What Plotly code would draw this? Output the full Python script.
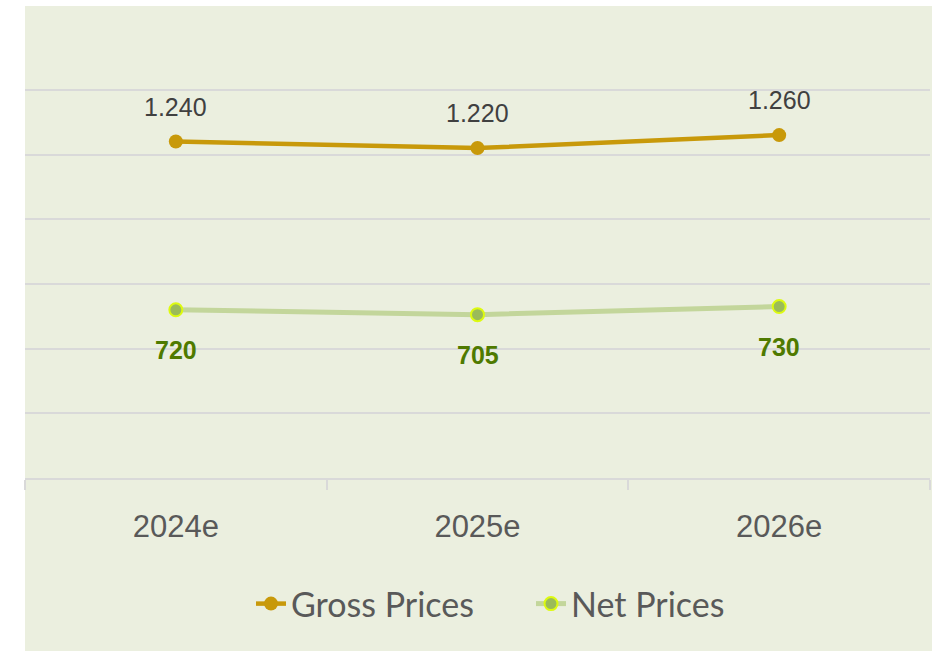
import plotly.graph_objects as go

categories = ["2024e", "2025e", "2026e"]
gross_prices = [1240, 1220, 1260]
net_prices = [720, 705, 730]

def fmt(v):
    return f"{v:,}".replace(",", ".")

W, H = 940, 651
ml, mr, mt, mb = 25, 10, 30, 173
pw = W - ml - mr
ph = H - mt - mb

BG = "#EBEFDF"
GRID = "#D9D9D9"
GOLD = "#C8990A"
NETLINE = "#C3D69B"
NETMARK = "#9BBB59"
NETEDGE = "#DDFA10"
NETTXT = "#4F7A00"

fig = go.Figure()
fig.add_trace(go.Scatter(
    x=categories, y=gross_prices, name="Gross Prices", mode="lines+markers",
    line=dict(color=GOLD, width=4.5),
    marker=dict(color=GOLD, size=14, line=dict(width=0)),
))
fig.add_trace(go.Scatter(
    x=categories, y=net_prices, name="Net Prices", mode="lines+markers",
    line=dict(color=NETLINE, width=5),
    marker=dict(color=NETMARK, size=13, line=dict(color=NETEDGE, width=2)),
))

for c, v in zip(categories, gross_prices):
    fig.add_annotation(x=c, y=v, xref="x", yref="y", text=fmt(v), showarrow=False,
                       yshift=35, font=dict(family="Liberation Sans, Arial", size=25, color="#404040"))
for c, v in zip(categories, net_prices):
    fig.add_annotation(x=c, y=v, xref="x", yref="y", text="<b>" + fmt(v) + "</b>", showarrow=False,
                       yshift=-40, font=dict(family="Liberation Sans, Arial", size=25, color=NETTXT))

# background panel (white frame around)
fig.add_shape(type="rect", xref="paper", yref="paper", layer="below",
              x0=0, x1=(932 - ml) / pw, y0=-(mb) / ph, y1=(ph + mt - 6) / ph,
              fillcolor=BG, line=dict(width=0))

fig.update_layout(
    width=W, height=H,
    margin=dict(l=ml, r=mr, t=mt, b=mb, pad=0),
    paper_bgcolor="white", plot_bgcolor=BG,
    showlegend=True,
    legend=dict(orientation="h", x=(251 - ml) / pw, xanchor="left", y=-(604 - 478) / ph, yanchor="middle",
                font=dict(family="Lato, Open Sans, sans-serif", size=34, color="#595959"),
                bgcolor="rgba(0,0,0,0)", entrywidth=235, entrywidthmode="pixels"),
    xaxis=dict(type="category", range=[-0.5, 2.5], showgrid=False, zeroline=False,
               showline=True, linecolor=GRID, linewidth=2,
               ticks="outside", tickson="boundaries", ticklen=10, tickcolor=GRID, tickwidth=1.5,
               ticklabelstandoff=20,
               tickfont=dict(family="Liberation Sans, Arial", size=31, color="#595959")),
    yaxis=dict(range=[200, 200 + ph / 0.3235], tick0=0, dtick=200, showgrid=True, gridcolor=GRID,
               gridwidth=1.5, zeroline=False, showline=False, showticklabels=False, ticks=""),
)

fig.write_html("out.html", config={"displayModeBar": False},
               post_script="document.body.style.margin='0px';document.body.style.padding='0px';")
